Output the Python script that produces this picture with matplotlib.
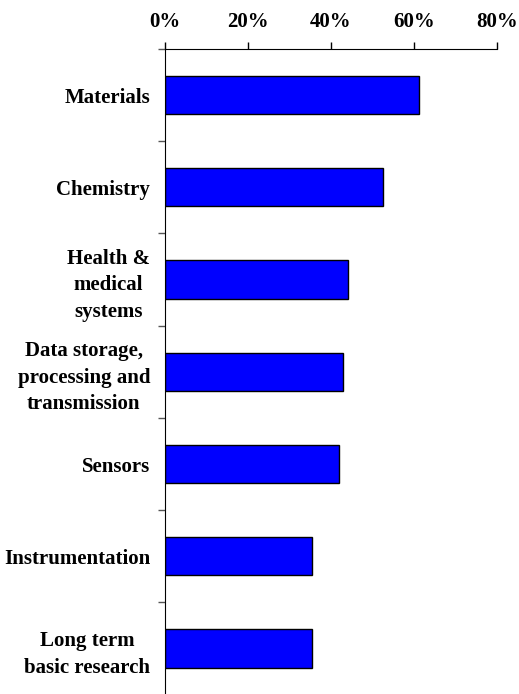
import matplotlib.pyplot as plt
import numpy as np

plt.rcParams['font.family'] = 'Liberation Serif'
plt.rcParams['font.weight'] = 'bold'

categorias = ['Materials', 'Chemistry', 'Health &\nmedical\nsystems',
              'Data storage,\nprocessing and\ntransmission', 'Sensors',
              'Instrumentation', 'Long term\nbasic research']
valores = [61.3, 52.7, 44.1, 43.0, 42.0, 35.6, 35.6]
ticks_x = [0, 20, 40, 60, 80]

fig = plt.figure(figsize=(5.19, 6.94), dpi=100)
ax = fig.add_axes([0.3173, -0.001, 0.6397, 0.9305])

y = np.arange(len(categorias))
ax.barh(y, valores, height=0.415, color='#0000FF', edgecolor='black', linewidth=1)

ax.set_xlim(0, 80)
ax.set_ylim(len(categorias) - 0.5, -0.5)

ax.xaxis.tick_top()
ax.set_xticks(ticks_x)
ax.set_xticklabels([f'{t}%' for t in ticks_x], fontsize=15, fontweight='bold')
ax.tick_params(axis='x', direction='out', length=5, width=1, pad=7)

# etiquetas en el centro, ticks en los limites de cada categoria
ax.set_yticks(y)
ax.set_yticklabels(categorias, fontsize=15, fontweight='bold',
                   multialignment='center', linespacing=1.45)
ax.tick_params(axis='y', which='major', length=0, pad=10.5)
ax.set_yticks(np.arange(len(categorias) + 1) - 0.5, minor=True)
ax.tick_params(axis='y', which='minor', length=5, width=1, direction='out', color='#555555')

ax.spines['right'].set_visible(False)
ax.spines['bottom'].set_visible(False)

fig.savefig('out.png', dpi=100)
